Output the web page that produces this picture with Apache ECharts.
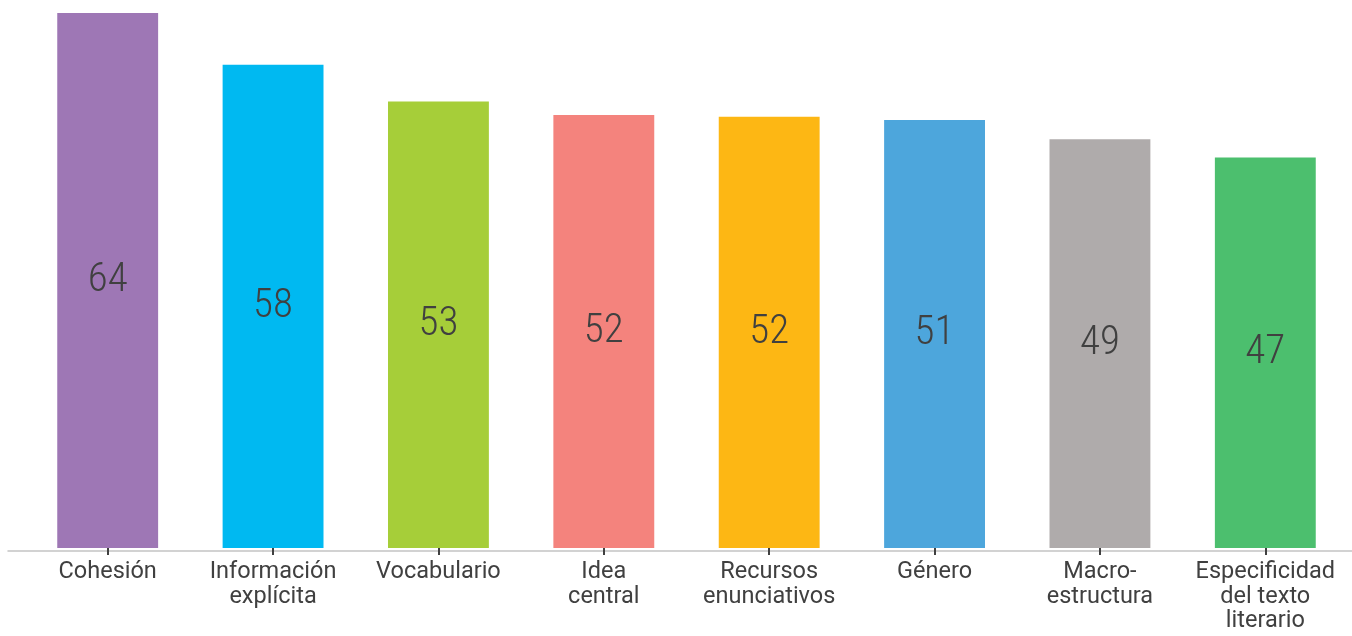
<!DOCTYPE html>
<html><head><meta charset="utf-8">
<script src="https://cdn.jsdelivr.net/npm/echarts@6/dist/echarts.min.js"></script>
<style>html,body{margin:0;padding:0;background:#fff}#c{width:1352px;height:636px}</style>
</head><body><div id="c"></div>
<script>
const categories = ['Cohesión','Información\nexplícita','Vocabulario','Idea\ncentral','Recursos\nenunciativos','Género','Macro-\nestructura','Especificidad\ndel texto\nliterario'];
const values = [64, 57.8, 53.4, 51.8, 51.6, 51.2, 48.9, 46.7];
const colors = ['#9E77B5','#00B9F1','#A6CE39','#F4837D','#FDB714','#4DA6DC','#AFABAB','#4CBF6E'];

const chart = echarts.init(document.getElementById('c'));
chart.setOption({
  animation:false,
  grid:[
    {left:25, width:1323, top:13, bottom:88},
    {left:8, right:0, top:13, bottom:85}
  ],
  xAxis:[
    {type:'category', gridIndex:0, data:categories, offset:3,
     axisLine:{show:false},
     axisTick:{show:true, alignWithLabel:true, length:7, lineStyle:{color:'#404040', width:2}},
     axisLabel:{interval:0, margin:9, color:'#404040', fontFamily:'Roboto', fontSize:23.5, lineHeight:24.5}},
    {type:'category', gridIndex:1, data:[''],
     axisLine:{show:true, lineStyle:{color:'#c4c4c4', width:1.5}},
     axisTick:{show:false}, axisLabel:{show:false}}
  ],
  yAxis:[
    {type:'value', gridIndex:0, min:0, max:64, show:false},
    {type:'value', gridIndex:1, min:0, max:1, show:false}
  ],
  series:[{
    type:'bar', xAxisIndex:0, yAxisIndex:0, barWidth:'61%',
    data: values.map((v,i)=>({value:v, itemStyle:{color:colors[i]}})),
    label:{show:true, position:'inside', formatter:p=>Math.round(p.value),
      color:'#404040', fontFamily:'Roboto', fontWeight:'300 condensed', fontSize:41}
  }]
});
</script></body></html>
